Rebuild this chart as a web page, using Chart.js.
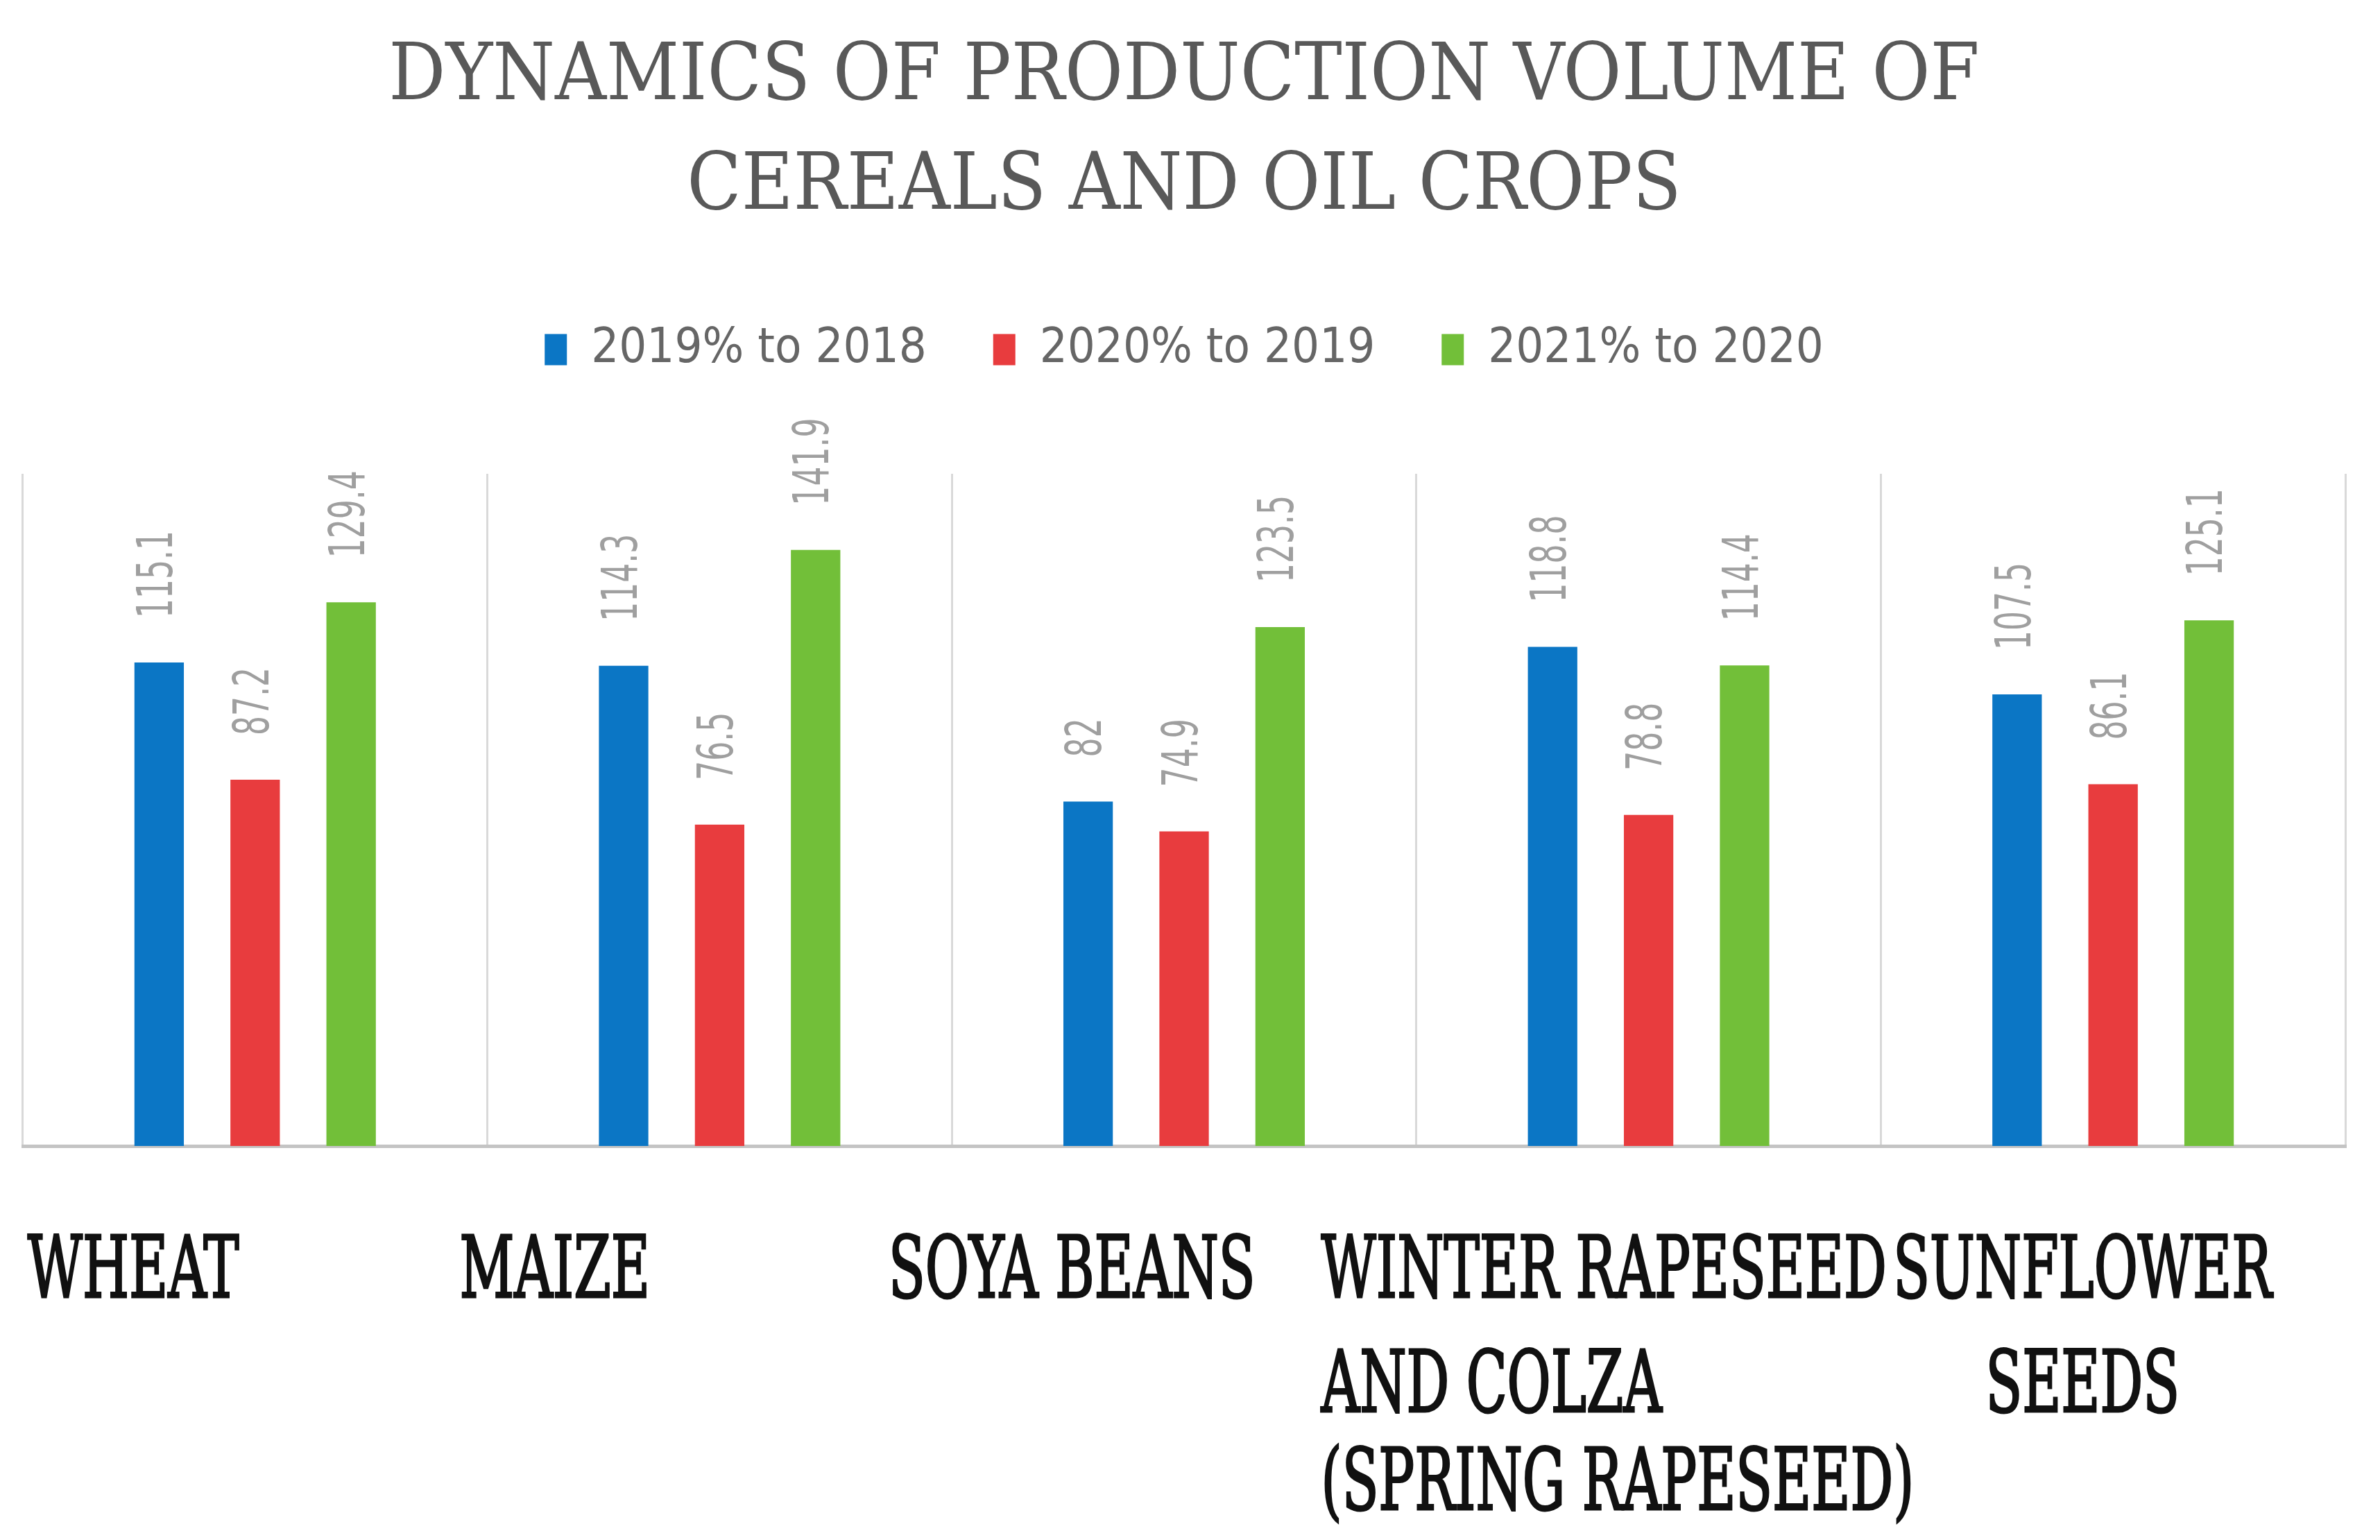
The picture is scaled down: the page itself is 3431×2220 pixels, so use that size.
<!DOCTYPE html>
<html>
<head>
<meta charset="utf-8">
<script src="https://cdn.jsdelivr.net/npm/chart.js@4.4.1/dist/chart.umd.min.js"></script>
<style>
  html, body { margin: 0; padding: 0; background: #fff; }
  #wrap { width: 3431px; height: 2220px; }
</style>
</head>
<body>
<div id="wrap"><canvas id="cropChart"></canvas></div>
<script>
// categories and series
const crops = [
    ['WHEAT'],
    ['MAIZE'],
    ['SOYA BEANS'],
    ['WINTER RAPESEED', 'AND COLZA', '(SPRING RAPESEED)'],
    ['SUNFLOWER', 'SEEDS']
];
const seriesNames = ['2019% to 2018', '2020% to 2019', '2021% to 2020'];
const y2019 = [115.1, 114.3, 82, 118.8, 107.5];
const y2020 = [87.2, 76.5, 74.9, 78.8, 86.1];
const y2021 = [129.4, 141.9, 123.5, 114.4, 125.1];

const colors = ['#0b76c5', '#e83c3e', '#72bf39'];
const greyText = '#595959';

// category labels in the picture are not centred under the groups
const labelShift = [-328, -375, -426, -472, -44];
const labelAlign = ['left', 'left', 'left', 'left', 'center'];
const lineOffsets = [0, 165, 306];

// rotated value labels above every bar
const barValues = {
    id: 'barValues',
    afterDatasetsDraw(chart) {
        const ctx = chart.ctx;
        ctx.save();
        ctx.fillStyle = '#9f9f9f';
        ctx.font = "72px 'DejaVu Sans Condensed', 'DejaVu Sans', sans-serif";
        ctx.textAlign = 'left';
        ctx.textBaseline = 'middle';
        chart.data.datasets.forEach((ds, di) => {
            chart.getDatasetMeta(di).data.forEach((bar, i) => {
                ctx.save();
                ctx.translate(bar.x, bar.y - 64);
                ctx.rotate(-Math.PI / 2);
                ctx.scale(0.68, 1);
                ctx.fillText(String(ds.data[i]), 0, 0);
                ctx.restore();
            });
        });
        ctx.restore();
    }
};

// category names under the axis, narrow serif like the original
const cropNames = {
    id: 'cropNames',
    afterDraw(chart) {
        const ctx = chart.ctx;
        const xs = chart.scales.x;
        const top = chart.chartArea.bottom + 186;
        ctx.save();
        ctx.fillStyle = '#111';
        ctx.strokeStyle = '#111';
        ctx.lineWidth = 3;
        ctx.font = "124px 'DejaVu Serif Condensed', 'DejaVu Serif', serif";
        ctx.textBaseline = 'middle';
        crops.forEach((lines, i) => {
            const px = xs.getPixelForTick(i) + labelShift[i];
            lines.forEach((line, li) => {
                ctx.save();
                ctx.translate(px, top + lineOffsets[li]);
                ctx.scale(0.69, 1);
                ctx.textAlign = labelAlign[i];
                ctx.fillText(line, 0, 0);
                ctx.strokeText(line, 0, 0);
                ctx.restore();
            });
        });
        ctx.restore();
    }
};

new Chart(document.getElementById('cropChart'), {
    type: 'bar',
    data: {
        labels: crops,
        datasets: [y2019, y2020, y2021].map((d, i) => ({
            label: seriesNames[i],
            data: d,
            backgroundColor: colors[i],
            borderWidth: 0,
            categoryPercentage: 0.62,
            barPercentage: 0.515
        }))
    },
    options: {
        responsive: true,
        maintainAspectRatio: false,
        animation: false,
        layout: { padding: { top: 0, left: 33, right: 50, bottom: 568 } },
        plugins: {
            title: {
                display: true,
                text: ['DYNAMICS OF PRODUCTION VOLUME OF', 'CEREALS AND OIL CROPS'],
                color: greyText,
                font: { family: "'DejaVu Serif Condensed', 'DejaVu Serif', serif", size: 114, weight: 'normal', lineHeight: 1.386 },
                padding: { top: 34, bottom: 23 }
            },
            legend: {
                position: 'top',
                labels: {
                    color: '#666',
                    font: { family: "'DejaVu Sans Condensed', 'DejaVu Sans', sans-serif", size: 70 },
                    boxWidth: 32,
                    boxHeight: 45,
                    padding: 96
                }
            },
            // empty spacer between legend and plot
            subtitle: {
                display: true,
                text: '',
                weight: 500,
                font: { size: 10, lineHeight: 1 },
                padding: { top: 0, bottom: 124 }
            },
            tooltip: { enabled: false }
        },
        scales: {
            x: {
                grid: { offset: true, color: '#d9d9d9', lineWidth: 3, drawTicks: false },
                border: { color: '#c4c4c4', width: 5 },
                ticks: { display: false }
            },
            y: {
                display: false,
                min: 0,
                max: 160
            }
        }
    },
    plugins: [barValues, cropNames]
});
</script>
</body>
</html>
